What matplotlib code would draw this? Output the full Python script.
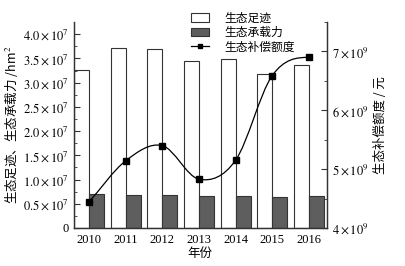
import numpy as np
import matplotlib
matplotlib.use('Agg')
import matplotlib.pyplot as plt
from matplotlib.path import Path
from matplotlib.patches import PathPatch
from matplotlib.lines import Line2D
from matplotlib.patches import Patch

plt.rcParams['font.family'] = ['Liberation Serif', 'Noto Sans CJK SC']
plt.rcParams['mathtext.fontset'] = 'stix'

years = ['2010', '2011', '2012', '2013', '2014', '2015', '2016']
footprint = [3.26e7, 3.71e7, 3.69e7, 3.45e7, 3.49e7, 3.18e7, 3.36e7]
capacity = [0.70e7, 0.69e7, 0.69e7, 0.67e7, 0.65e7, 0.63e7, 0.65e7]
compensation = [4.44e9, 5.14e9, 5.40e9, 4.83e9, 5.15e9, 6.59e9, 6.90e9]

left_ticks = [0, 0.5e7, 1.0e7, 1.5e7, 2.0e7, 2.5e7, 3.0e7, 3.5e7, 4.0e7]
left_labels = ['0', r'$0.5\times10^{7}$', r'$1.0\times10^{7}$', r'$1.5\times10^{7}$',
               r'$2.0\times10^{7}$', r'$2.5\times10^{7}$', r'$3.0\times10^{7}$',
               r'$3.5\times10^{7}$', r'$4.0\times10^{7}$']
right_ticks = [4e9, 5e9, 6e9, 7e9]
right_labels = [r'$4\times10^{9}$', r'$5\times10^{9}$', r'$6\times10^{9}$', r'$7\times10^{9}$']

cjk = ['Noto Sans CJK SC', 'DejaVu Sans']

fig = plt.figure(figsize=(4.06, 2.66), dpi=100)
ax = fig.add_axes([0.182, 0.143, 0.623, 0.774])
ax2 = ax.twinx()

x = np.arange(len(years))
w = 0.41
ax.bar(x - w / 2, footprint, w, color='white', edgecolor='#333333', linewidth=0.8)
ax.bar(x + w / 2, capacity, w, color='#5e5e5e', edgecolor='#333333', linewidth=0.8)

# smooth curve through the points (Catmull-Rom as cubic bezier segments)
px = x.astype(float)
py = np.array(compensation)
verts = [(px[0], py[0])]
codes = [Path.MOVETO]
n = len(px)
for i in range(n - 1):
    m0 = (py[i + 1] - py[i - 1]) / 2 if i > 0 else (py[1] - py[0])
    m1 = (py[i + 2] - py[i]) / 2 if i + 2 < n else 0.0
    verts += [(px[i] + 1 / 3, py[i] + m0 / 3), (px[i + 1] - 1 / 3, py[i + 1] - m1 / 3),
              (px[i + 1], py[i + 1])]
    codes += [Path.CURVE4] * 3
ax2.add_patch(PathPatch(Path(verts, codes), facecolor='none', edgecolor='black', lw=0.9))
ax2.plot(px, py, ls='none', marker='s', ms=4.5, color='black', zorder=5)

ax.set_xlim(-w, len(years) - 1 + 0.49)
ax.set_ylim(0, 4.25e7)
ax2.set_ylim(4e9, 7.5e9)

ax.set_xticks(x)
ax.set_xticklabels(years, fontsize=9)
ax.tick_params(axis='x', length=0, pad=4)
ax.set_yticks(left_ticks)
ax.set_yticklabels(left_labels, fontsize=9)
ax.set_yticks(np.arange(0.25e7, 4.25e7, 0.5e7), minor=True)
ax.tick_params(axis='y', which='both', direction='in', length=4, color='#333333')
ax.tick_params(axis='y', which='minor', length=2.5)

ax2.set_yticks(right_ticks)
ax2.set_yticklabels(right_labels, fontsize=9)
ax2.set_yticks([4.5e9, 5.5e9, 6.5e9, 7.5e9], minor=True)
ax2.tick_params(axis='y', which='both', direction='in', length=4, color='#333333')
ax2.tick_params(axis='y', which='minor', length=2.5)

for a in (ax, ax2):
    a.spines['top'].set_visible(False)
    for s in ('left', 'right', 'bottom'):
        a.spines[s].set_color('#333333')
        a.spines[s].set_linewidth(0.9)

ax.set_xlabel('年份', family=cjk, fontsize=9, labelpad=1)
ax.set_ylabel('生态足迹、生态承载力 /hm$^2$', family=cjk, fontsize=9, labelpad=2)
ax2.set_ylabel('生态补偿额度 / 元', family=cjk, fontsize=9, labelpad=4)

handles = [Patch(facecolor='white', edgecolor='#333333', lw=0.8),
           Patch(facecolor='#5e5e5e', edgecolor='#333333', lw=0.8),
           Line2D([], [], color='black', lw=0.9, marker='s', ms=3.5)]
leg = ax.legend(handles, ['生态足迹', '生态承载力', '生态补偿额度'], loc='upper left',
                bbox_to_anchor=(0.435, 1.085), frameon=False, prop={'family': cjk, 'size': 8.5},
                handlelength=1.5, handleheight=0.7, handletextpad=1.3, labelspacing=0.12,
                borderpad=0.1)

fig.savefig('out.png', dpi=100)
